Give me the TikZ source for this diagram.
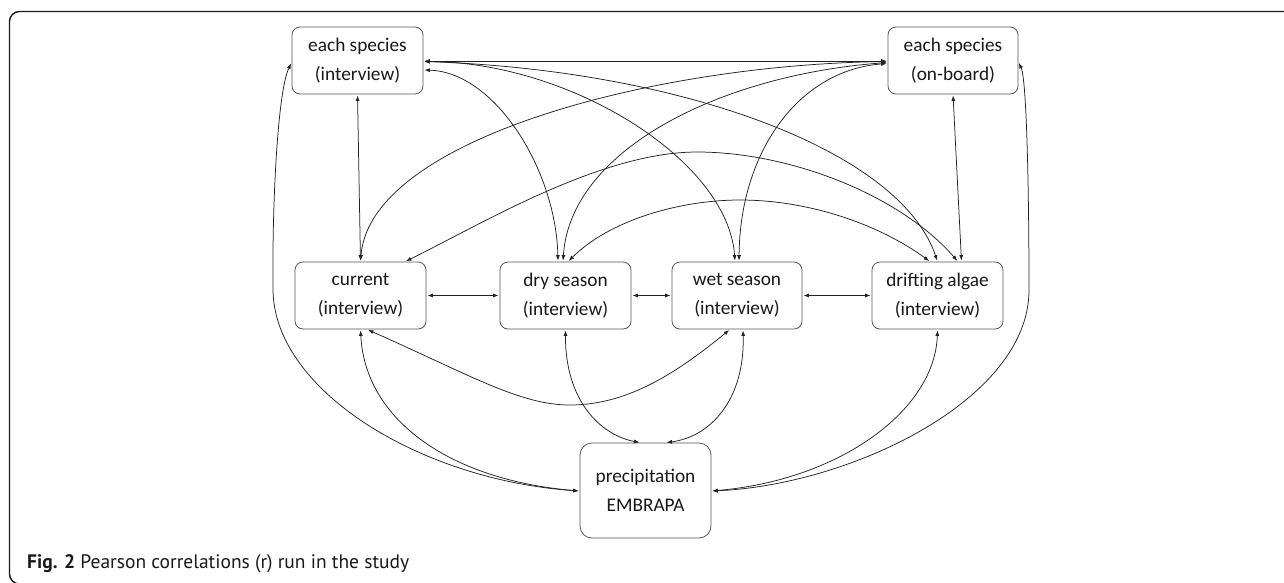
\documentclass[tikz,border=0pt]{standalone}
\usepackage{fontspec}
\setmainfont{Carlito}
\newfontfamily\capfont{PT Sans}
\usetikzlibrary{arrows.meta,calc}
\definecolor{boxgray}{HTML}{555555}
\definecolor{linegray}{HTML}{222222}
\definecolor{framec}{HTML}{1A1A1A}
\begin{document}
\begin{tikzpicture}[x=1pt,y=-1pt,
  box/.style={draw=boxgray,line width=0.8pt,rounded corners=8pt,minimum width=131pt,minimum height=67pt,inner sep=0pt,align=center,font=\fontsize{19.3}{29}\selectfont,text=black!90},
  link/.style={draw=linegray,line width=0.75pt,{Latex[length=5.5pt,width=4pt]}-{Latex[length=5.5pt,width=4pt]},shorten <=1pt,shorten >=1pt},
]
\useasboundingbox (0,0) rectangle (1284,582);
\begin{scope}
\clip (0,0) rectangle (1284,582);
\draw[line width=1.4pt,draw=framec,rounded corners=10pt] (9.5,11.5) rectangle (1300,584);
\end{scope}

\node[box] (esi) at (357.5,60.5) {each species\\(interview)};
\node[box,minimum width=130pt] (eso) at (953,60.5) {each species\\(on-board)};
\node[box] (cur) at (360.5,295.5) {current\\(interview)};
\node[box] (dry) at (565.5,295.5) {dry season\\(interview)};
\node[box,minimum width=130pt] (wet) at (737,295.5) {wet season\\(interview)};
\node[box] (alg) at (937.5,295.5) {drifting algae\\(interview)};
\node[box,minimum height=95pt,rounded corners=12pt] (pre) at (645.5,490.5) {precipitation\\EMBRAPA};

\node[anchor=base west,inner sep=0pt,font=\capfont\fontsize{19.5}{21}\selectfont,text=black!90] (cap) at (27,568) {\textbf{Fig. 2} Pearson correlations (r) run in the study};

% top connectors
\draw[link] ($(esi.east)+(0,0.5)$) -- ($(eso.west)+(0,0.5)$);
\draw[link] ($(esi.east)+(0,9.5)$) .. controls (495,72) and (556,170) .. ($(dry.north)+(-7.5,0)$);
\draw[link] ($(esi.east)+(0,1)$) .. controls (570,62) and (728,160) .. ($(wet.north)+(-2,0)$);
\draw[link] ($(esi.east)+(0,1)$) .. controls (680,70) and (900,150) .. (alg.north);
\draw[link] ($(eso.west)+(0,1)$) .. controls (650,65) and (370,140) .. (cur.north);
\draw[link] ($(eso.west)+(0,2)$) .. controls (720,75) and (570,150) .. ($(dry.north)+(-2.5,0)$);
\draw[link] ($(eso.west)+(0,3)$) .. controls (800,70) and (740,150) .. ($(wet.north)+(2,0)$);
\draw[link] (eso.south) -- ($(alg.north)+(24,0)$);
\draw[link] (esi.south) -- (cur.north);
\draw[link] ($(cur.north)+(44.5,0)$) .. controls (480,225) and (600,152) .. (697,152) .. controls (790,152) and (900,195) .. ($(alg.north)+(20.5,0)$);
\draw[link] ($(dry.north)+(2.5,0)$) .. controls (610,220) and (680,200) .. (740,200) .. controls (810,200) and (880,225) .. ($(alg.north)+(-7.5,0)$);

% horizontal
\draw[link] (cur.east) -- (dry.west);
\draw[link] (dry.east) -- (wet.west);
\draw[link] (wet.east) -- (alg.west);

% bottom connectors
\draw[link] (cur.south) .. controls (365,420) and (450,480) .. ($(pre.west)+(0,0.5)$);
\draw[link] ($(esi.west)+(0,2)$) .. controls (278,90) and (272,200) .. (273,290) .. controls (274,390) and (420,480) .. ($(pre.west)+(0,0.5)$);
\draw[link] ($(cur.south)+(6.5,0)$) .. controls (470,375) and (520,405) .. (570,405) .. controls (630,405) and (680,370) .. ($(wet.south)+(-7,0)$);
\draw[link] (dry.south) .. controls (565,400) and (600,435) .. ($(pre.north)+(-5,0)$);
\draw[link] ($(wet.south)+(6,0)$) .. controls (745,400) and (710,437) .. ($(pre.north)+(20,0)$);
\draw[link] (alg.south) .. controls (935,410) and (840,480) .. ($(pre.east)+(0,0.5)$);
\draw[link] ($(eso.east)+(0,1.5)$) .. controls (1027,80) and (1029,200) .. (1029,290) .. controls (1029,400) and (850,485) .. ($(pre.east)+(0,0.5)$);
\end{tikzpicture}
\end{document}
